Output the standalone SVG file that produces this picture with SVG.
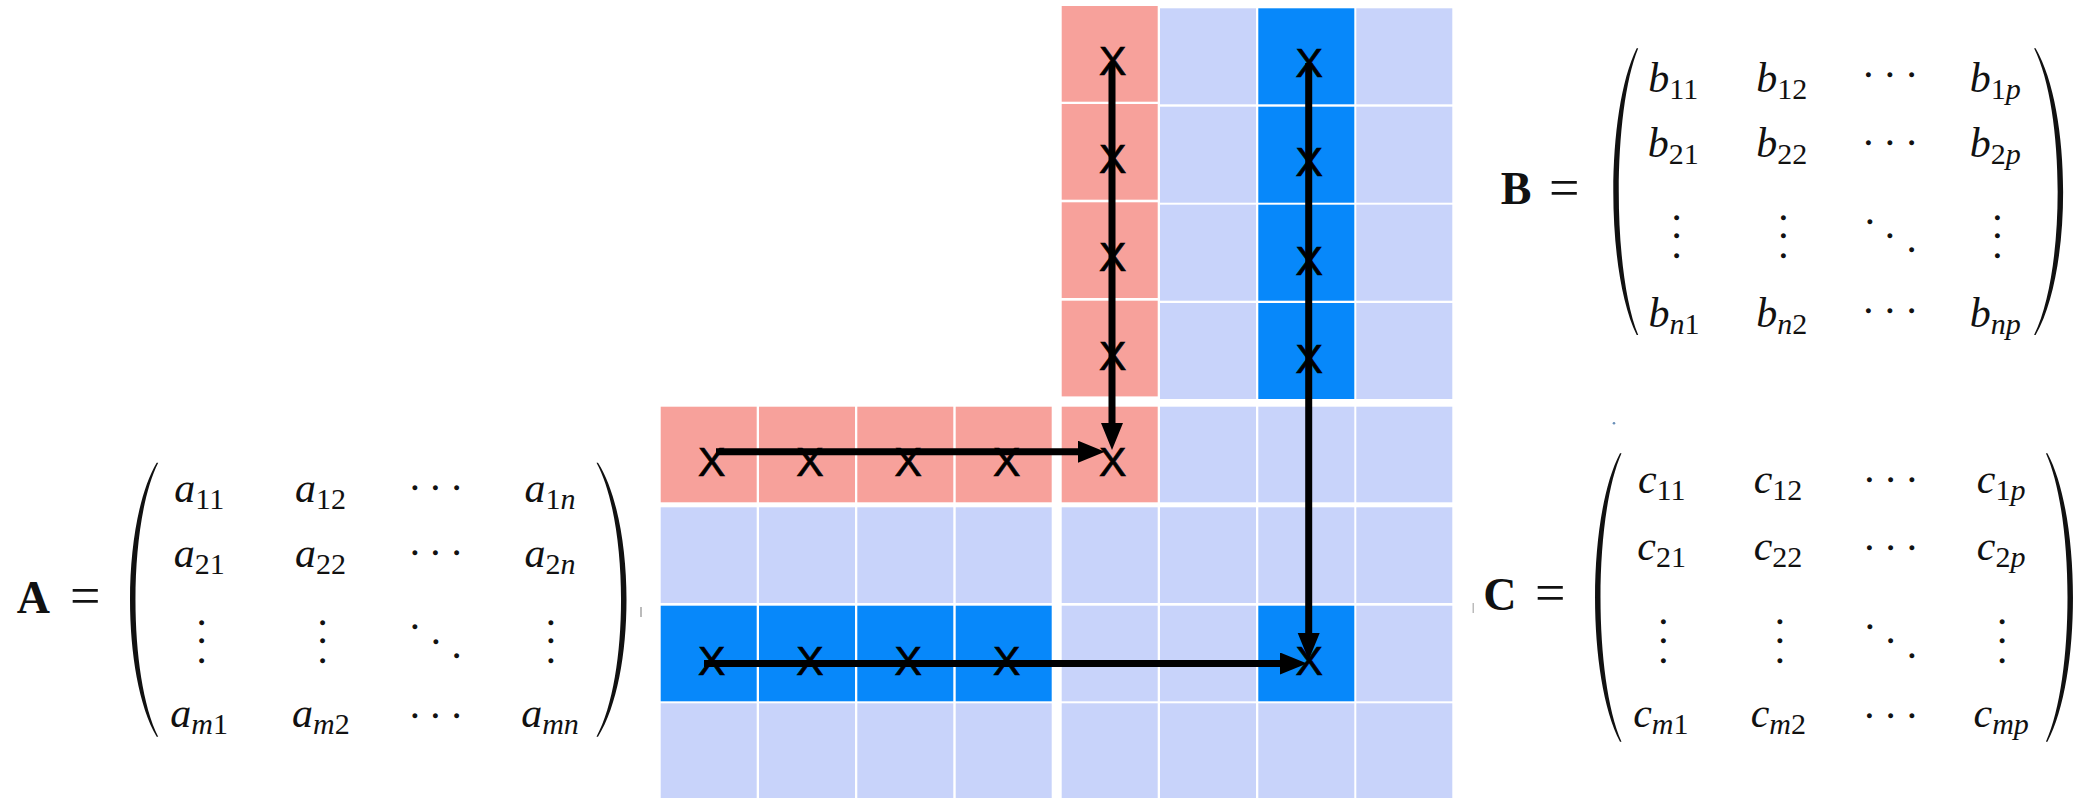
<svg xmlns="http://www.w3.org/2000/svg" width="2076" height="798" viewBox="0 0 2076 798">
<style>
.pk{fill:#F7A19B}
.lb{fill:#C8D3FA}
.bl{fill:#0788FA}
.x{font-family:"Liberation Sans",Arial,sans-serif;font-size:41px;fill:#000;stroke:#000;stroke-width:0.7px;text-anchor:middle}
.ent{font-family:"Liberation Serif","Times New Roman",serif;font-size:42px;font-style:italic;fill:#111;text-anchor:middle}
.sub{font-size:30px}
.num{font-style:normal}
.lbl{font-family:"Liberation Serif","Times New Roman",serif;font-size:46px;font-weight:bold;fill:#111}
.eq{font-family:"Liberation Serif","Times New Roman",serif;font-size:54px;fill:#111}
.dot{font-family:"Liberation Serif","Times New Roman",serif;font-size:15px;fill:#111;stroke:#111;stroke-width:1.3px;text-anchor:middle}
.par{fill:#111}
.ln{stroke:#000;stroke-width:7;fill:none}
</style>
<defs>
<marker id="ah" markerUnits="userSpaceOnUse" markerWidth="30" markerHeight="24" refX="12" refY="11" orient="auto">
<path d="M0,0 L27,11 L0,22 Z" fill="#000"/>
</marker>
</defs>
<rect width="2076" height="798" fill="#fff"/>

<g id="gridA">
<rect class="pk" x="660.7" y="406.7" width="96" height="95.6"/>
<rect class="pk" x="759" y="406.7" width="96" height="95.6"/>
<rect class="pk" x="857.3" y="406.7" width="96" height="95.6"/>
<rect class="pk" x="955.7" y="406.7" width="96" height="95.6"/>
<rect class="lb" x="660.7" y="507.3" width="96" height="95.7"/>
<rect class="lb" x="759" y="507.3" width="96" height="95.7"/>
<rect class="lb" x="857.3" y="507.3" width="96" height="95.7"/>
<rect class="lb" x="955.7" y="507.3" width="96" height="95.7"/>
<rect class="bl" x="660.7" y="605.7" width="96" height="95.6"/>
<rect class="bl" x="759" y="605.7" width="96" height="95.6"/>
<rect class="bl" x="857.3" y="605.7" width="96" height="95.6"/>
<rect class="bl" x="955.7" y="605.7" width="96" height="95.6"/>
<rect class="lb" x="660.7" y="703.3" width="96" height="96"/>
<rect class="lb" x="759" y="703.3" width="96" height="96"/>
<rect class="lb" x="857.3" y="703.3" width="96" height="96"/>
<rect class="lb" x="955.7" y="703.3" width="96" height="96"/>
</g>

<g id="gridB">
<rect class="pk" x="1061.7" y="6" width="96" height="95.7"/>
<rect class="pk" x="1061.7" y="104" width="96" height="95.7"/>
<rect class="pk" x="1061.7" y="202.3" width="96" height="95.7"/>
<rect class="pk" x="1061.7" y="300.7" width="96" height="95.7"/>
<rect class="lb" x="1160" y="8.3" width="96" height="96"/>
<rect class="lb" x="1160" y="106.7" width="96" height="96"/>
<rect class="lb" x="1160" y="204.7" width="96" height="96"/>
<rect class="lb" x="1160" y="303" width="96" height="96"/>
<rect class="bl" x="1258.3" y="8.3" width="96" height="96"/>
<rect class="bl" x="1258.3" y="106.7" width="96" height="96"/>
<rect class="bl" x="1258.3" y="204.7" width="96" height="96"/>
<rect class="bl" x="1258.3" y="303" width="96" height="96"/>
<rect class="lb" x="1356.3" y="8.3" width="96" height="96"/>
<rect class="lb" x="1356.3" y="106.7" width="96" height="96"/>
<rect class="lb" x="1356.3" y="204.7" width="96" height="96"/>
<rect class="lb" x="1356.3" y="303" width="96" height="96"/>
</g>

<g id="gridC">
<rect class="pk" x="1061.7" y="406.7" width="96" height="95.6"/>
<rect class="lb" x="1160" y="406.7" width="96" height="95.6"/>
<rect class="lb" x="1258.3" y="406.7" width="96" height="95.6"/>
<rect class="lb" x="1356.3" y="406.7" width="96" height="95.6"/>
<rect class="lb" x="1061.7" y="507.3" width="96" height="95.7"/>
<rect class="lb" x="1160" y="507.3" width="96" height="95.7"/>
<rect class="lb" x="1258.3" y="507.3" width="96" height="95.7"/>
<rect class="lb" x="1356.3" y="507.3" width="96" height="95.7"/>
<rect class="lb" x="1061.7" y="605.7" width="96" height="95.6"/>
<rect class="lb" x="1160" y="605.7" width="96" height="95.6"/>
<rect class="bl" x="1258.3" y="605.7" width="96" height="95.6"/>
<rect class="lb" x="1356.3" y="605.7" width="96" height="95.6"/>
<rect class="lb" x="1061.7" y="703.3" width="96" height="96"/>
<rect class="lb" x="1160" y="703.3" width="96" height="96"/>
<rect class="lb" x="1258.3" y="703.3" width="96" height="96"/>
<rect class="lb" x="1356.3" y="703.3" width="96" height="96"/>
</g>

<g id="marks">
<text class="x" x="711.7" y="476">X</text>
<text class="x" x="810" y="476">X</text>
<text class="x" x="908.3" y="476">X</text>
<text class="x" x="1006.7" y="476">X</text>
<text class="x" x="711.7" y="675">X</text>
<text class="x" x="810" y="675">X</text>
<text class="x" x="908.3" y="675">X</text>
<text class="x" x="1006.7" y="675">X</text>
<text class="x" x="1112.7" y="74.7">X</text>
<text class="x" x="1112.7" y="173">X</text>
<text class="x" x="1112.7" y="271.4">X</text>
<text class="x" x="1112.7" y="369.7">X</text>
<text class="x" x="1309.3" y="77.4">X</text>
<text class="x" x="1309.3" y="176.4">X</text>
<text class="x" x="1309.3" y="274.7">X</text>
<text class="x" x="1309.3" y="373">X</text>
<text class="x" x="1112.7" y="476.4">X</text>
<text class="x" x="1309.3" y="674.7">X</text>
</g>

<g id="connectors">
<line class="ln" x1="716" y1="451.7" x2="1090" y2="451.7" marker-end="url(#ah)"/>
<line class="ln" x1="704" y1="663.5" x2="1292" y2="663.5" marker-end="url(#ah)"/>
<line class="ln" x1="1112" y1="63" x2="1112" y2="435" marker-end="url(#ah)"/>
<line class="ln" x1="1308.7" y1="63" x2="1308.7" y2="645" marker-end="url(#ah)"/>
</g>

<g id="matrixA">
<text class="lbl" x="16.7" y="612.7">A <tspan class="eq" font-weight="normal" x="70" y="614">=</tspan></text>
<path class="par" d="M156.7,462.7 C121.1,523 121.1,676.4 156.7,736.7 L158.2,736.7 C127.9,676.4 127.9,523 158.2,462.7Z"/>
<path class="par" d="M598,462.7 C636,523 636,676.4 598,736.7 L596.5,736.7 C629.2,676.4 629.2,523 596.5,462.7Z"/>
<text class="ent" x="199.2" y="501.7">a<tspan class="sub num" dy="7">11</tspan></text>
<text class="ent" x="320.5" y="501.7">a<tspan class="sub num" dy="7">12</tspan></text>
<text class="ent" x="550" y="501.7">a<tspan class="sub" dy="7"><tspan class="num">1</tspan>n</tspan></text>
<text class="ent" x="199.2" y="566.7">a<tspan class="sub num" dy="7">21</tspan></text>
<text class="ent" x="320.5" y="566.7">a<tspan class="sub num" dy="7">22</tspan></text>
<text class="ent" x="550" y="566.7">a<tspan class="sub" dy="7"><tspan class="num">2</tspan>n</tspan></text>
<text class="ent" x="199.2" y="726.7">a<tspan class="sub" dy="7">m<tspan class="num">1</tspan></tspan></text>
<text class="ent" x="320.8" y="726.7">a<tspan class="sub" dy="7">m<tspan class="num">2</tspan></tspan></text>
<text class="ent" x="550" y="726.7">a<tspan class="sub" dy="7">mn</tspan></text>
<text class="dot"><tspan x="415" y="493">•</tspan><tspan x="435.3" y="493">•</tspan><tspan x="456.7" y="493">•</tspan></text>
<text class="dot"><tspan x="415" y="558">•</tspan><tspan x="435.3" y="558">•</tspan><tspan x="456.7" y="558">•</tspan></text>
<text class="dot"><tspan x="415" y="721.4">•</tspan><tspan x="435.3" y="721.4">•</tspan><tspan x="456.7" y="721.4">•</tspan></text>
<text class="dot"><tspan x="201.7" y="628">•</tspan><tspan x="201.7" y="646.4">•</tspan><tspan x="201.7" y="666.4">•</tspan></text>
<text class="dot"><tspan x="322.7" y="628">•</tspan><tspan x="322.7" y="646.4">•</tspan><tspan x="322.7" y="666.4">•</tspan></text>
<text class="dot"><tspan x="415" y="632.4">•</tspan><tspan x="436" y="647">•</tspan><tspan x="456.7" y="660.7">•</tspan></text>
<text class="dot"><tspan x="551" y="628">•</tspan><tspan x="551" y="646.4">•</tspan><tspan x="551" y="666.4">•</tspan></text>
</g>

<g id="matrixB">
<text class="lbl" x="1500.7" y="204">B <tspan class="eq" font-weight="normal" x="1549" y="206">=</tspan></text>
<path class="par" d="M1636.7,48.3 C1605.5,111.3 1605.5,272 1636.7,335 L1638.2,335 C1612.3,272 1612.3,111.3 1638.2,48.3Z"/>
<path class="par" d="M2035.6,48.3 C2072.3,111.3 2072.3,272 2035.6,335 L2034.1,335 C2065.5,272 2065.5,111.3 2034.1,48.3Z"/>
<text class="ent" x="1673.3" y="91.7">b<tspan class="sub num" dy="7">11</tspan></text>
<text class="ent" x="1781.7" y="91.7">b<tspan class="sub num" dy="7">12</tspan></text>
<text class="ent" x="1995.3" y="91.7">b<tspan class="sub" dy="7"><tspan class="num">1</tspan>p</tspan></text>
<text class="ent" x="1673.3" y="156.7">b<tspan class="sub num" dy="7">21</tspan></text>
<text class="ent" x="1781.7" y="156.7">b<tspan class="sub num" dy="7">22</tspan></text>
<text class="ent" x="1995.3" y="156.7">b<tspan class="sub" dy="7"><tspan class="num">2</tspan>p</tspan></text>
<text class="ent" x="1674" y="326.7">b<tspan class="sub" dy="7">n<tspan class="num">1</tspan></tspan></text>
<text class="ent" x="1781.7" y="326.7">b<tspan class="sub" dy="7">n<tspan class="num">2</tspan></tspan></text>
<text class="ent" x="1995.3" y="326.7">b<tspan class="sub" dy="7">np</tspan></text>
<text class="dot"><tspan x="1868.3" y="79.7">•</tspan><tspan x="1890" y="79.7">•</tspan><tspan x="1911.7" y="79.7">•</tspan></text>
<text class="dot"><tspan x="1868.3" y="148">•</tspan><tspan x="1890" y="148">•</tspan><tspan x="1911.7" y="148">•</tspan></text>
<text class="dot"><tspan x="1868.3" y="316.4">•</tspan><tspan x="1890" y="316.4">•</tspan><tspan x="1911.7" y="316.4">•</tspan></text>
<text class="dot"><tspan x="1676.7" y="223">•</tspan><tspan x="1676.7" y="241.4">•</tspan><tspan x="1676.7" y="261.4">•</tspan></text>
<text class="dot"><tspan x="1783.3" y="223">•</tspan><tspan x="1783.3" y="241.4">•</tspan><tspan x="1783.3" y="261.4">•</tspan></text>
<text class="dot"><tspan x="1870" y="227.4">•</tspan><tspan x="1890" y="241.4">•</tspan><tspan x="1911.7" y="255.4">•</tspan></text>
<text class="dot"><tspan x="1997.5" y="223">•</tspan><tspan x="1997.5" y="241.4">•</tspan><tspan x="1997.5" y="261.4">•</tspan></text>
</g>

<g id="matrixC">
<text class="lbl" x="1483.3" y="610">C <tspan class="eq" font-weight="normal" x="1535" y="611">=</tspan></text>
<path class="par" d="M1620,453.3 C1586.7,516.7 1586.7,678.3 1620,741.7 L1621.5,741.7 C1593.5,678.3 1593.5,516.7 1621.5,453.3Z"/>
<path class="par" d="M2047.4,453.3 C2081.5,516.7 2081.5,678.3 2047.4,741.7 L2045.9,741.7 C2074.7,678.3 2074.7,516.7 2045.9,453.3Z"/>
<text class="ent" x="1661.7" y="493.3">c<tspan class="sub num" dy="7">11</tspan></text>
<text class="ent" x="1778" y="493.3">c<tspan class="sub num" dy="7">12</tspan></text>
<text class="ent" x="2001.2" y="493.3">c<tspan class="sub" dy="7"><tspan class="num">1</tspan>p</tspan></text>
<text class="ent" x="1661.7" y="560">c<tspan class="sub num" dy="7">21</tspan></text>
<text class="ent" x="1778" y="560">c<tspan class="sub num" dy="7">22</tspan></text>
<text class="ent" x="2001.2" y="560">c<tspan class="sub" dy="7"><tspan class="num">2</tspan>p</tspan></text>
<text class="ent" x="1660.8" y="726.7">c<tspan class="sub" dy="7">m<tspan class="num">1</tspan></tspan></text>
<text class="ent" x="1778.3" y="726.7">c<tspan class="sub" dy="7">m<tspan class="num">2</tspan></tspan></text>
<text class="ent" x="2001.2" y="726.7">c<tspan class="sub" dy="7">mp</tspan></text>
<text class="dot"><tspan x="1869.3" y="484.7">•</tspan><tspan x="1890.7" y="484.7">•</tspan><tspan x="1912" y="484.7">•</tspan></text>
<text class="dot"><tspan x="1869.3" y="553">•</tspan><tspan x="1890.7" y="553">•</tspan><tspan x="1912" y="553">•</tspan></text>
<text class="dot"><tspan x="1869.3" y="720.7">•</tspan><tspan x="1890.7" y="720.7">•</tspan><tspan x="1912" y="720.7">•</tspan></text>
<text class="dot"><tspan x="1663.3" y="627.4">•</tspan><tspan x="1663.3" y="646.4">•</tspan><tspan x="1663.3" y="665.7">•</tspan></text>
<text class="dot"><tspan x="1780" y="627.4">•</tspan><tspan x="1780" y="646.4">•</tspan><tspan x="1780" y="665.7">•</tspan></text>
<text class="dot"><tspan x="1870" y="632">•</tspan><tspan x="1890.7" y="646.4">•</tspan><tspan x="1912" y="660.7">•</tspan></text>
<text class="dot"><tspan x="2002.2" y="627.4">•</tspan><tspan x="2002.2" y="646.4">•</tspan><tspan x="2002.2" y="665.7">•</tspan></text>
</g>

<g id="specks">
<circle cx="1614" cy="423.3" r="1.3" fill="#6a8fb8"/>
<rect x="640" y="607" width="2" height="10" fill="#bbb"/>
<rect x="1472.5" y="603" width="1.5" height="10" fill="#bbb"/>
</g>
</svg>
